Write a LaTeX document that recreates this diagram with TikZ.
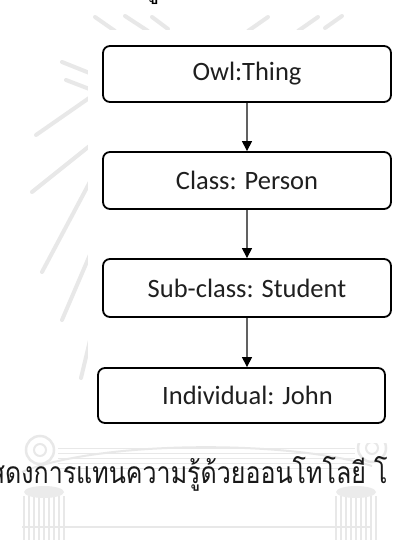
\documentclass[tikz,border=0pt]{standalone}
\usepackage{fontspec}
\setmainfont{Carlito}
\newfontfamily\thaifont[Script=Thai]{Loma}
\usetikzlibrary{arrows.meta}
\begin{document}
\begin{tikzpicture}[x=1pt,y=-1pt,
  concept/.style={draw=black, line width=1.8pt, rounded corners=7pt,
    minimum width=288pt, minimum height=56pt, inner sep=0pt,
    font=\fontsize{26.5}{30}\selectfont, text=black!88},
  isa/.style={draw=black!62, line width=1.2pt,
    -{Triangle[length=10pt,width=10pt,color=black]}},
  ray/.style={draw=black!9, line width=4pt, line cap=round},
  faint/.style={draw=black!9, line width=1.2pt},
]
\useasboundingbox (0,0) rectangle (392,540);
\fill[white] (0,0) rectangle (392,540);

% emblem in the page background
\foreach \xa/\ya/\xb/\yb in {95/17/115/31, 125/16/148/31, 152/17/168/29,
                   318/17/298/31, 268/17/248/31, 342/16/325/28,
                   62/62/92/74, 66/80/92/90,
                   36/135/92/96, 32/192/92/144, 42/272/92/178,
                   62/320/92/250, 81/378/92/332}
  \draw[ray] (\xa,\ya) -- (\xb,\yb);
\foreach \y in {448,453,458,463,468}
  \draw[faint, line width=1pt] (58,\y) -- (355,\y);
\draw[faint, line width=2pt] (22,472) .. controls (100,440) and (290,440) .. (372,466);
\draw[faint, line width=2.5pt] (40,450) circle[radius=14];
\draw[faint, line width=2pt] (40,450) circle[radius=6];
\draw[faint, line width=2.5pt] (372,448) circle[radius=14];
\draw[faint, line width=2pt] (372,448) circle[radius=6];
\draw[faint, line width=1.5pt] (22,527) -- (370,527);
\foreach \x in {24,29,34,39,44,49,54,59,64}
  \draw[faint, line width=1.8pt] (\x,496) -- (\x,540);
\foreach \x in {336,341,346,351,356,361,366,371,376}
  \draw[faint, line width=1.8pt] (\x,496) -- (\x,540);
\fill[black!8] (44,492) ellipse[x radius=20, y radius=6];
\fill[black!8] (356,492) ellipse[x radius=20, y radius=6];

% panel behind the hierarchy
\fill[white] (88,30) rectangle (392,443);

% fragment of the line above
\node[anchor=base, inner sep=0pt, font=\thaifont\fontsize{27}{30}\selectfont] (above) at (152,-2) {รู้};

% class hierarchy
\node[concept] (thing)   at (247,74)    {Owl:Thing};
\node[concept, minimum height=57pt] (person)  at (247,180.5) {Class: Person};
\node[concept, minimum height=58pt] (student) at (247,288)   {Sub-class: Student};
\node[concept, minimum width=287pt, minimum height=55pt] (john) at (241.5,395.5)
  {\hspace*{12pt}Individual: John};

\draw[isa] (thing.south) -- (person.north);
\draw[isa] (person.south) -- (student.north);
\draw[isa] (student.south) -- (student.south |- john.north);

% caption
\node[anchor=base west, inner sep=0pt, text=black!90,
      font=\thaifont\fontsize{25}{30}\selectfont] (caption) at (5,483)
  {\scalebox{1}[1.2]{\llap{แส}ดงการแทนความรู้ด้วยออนโทโลยี\hspace{8pt}โ}};
\end{tikzpicture}
\end{document}
